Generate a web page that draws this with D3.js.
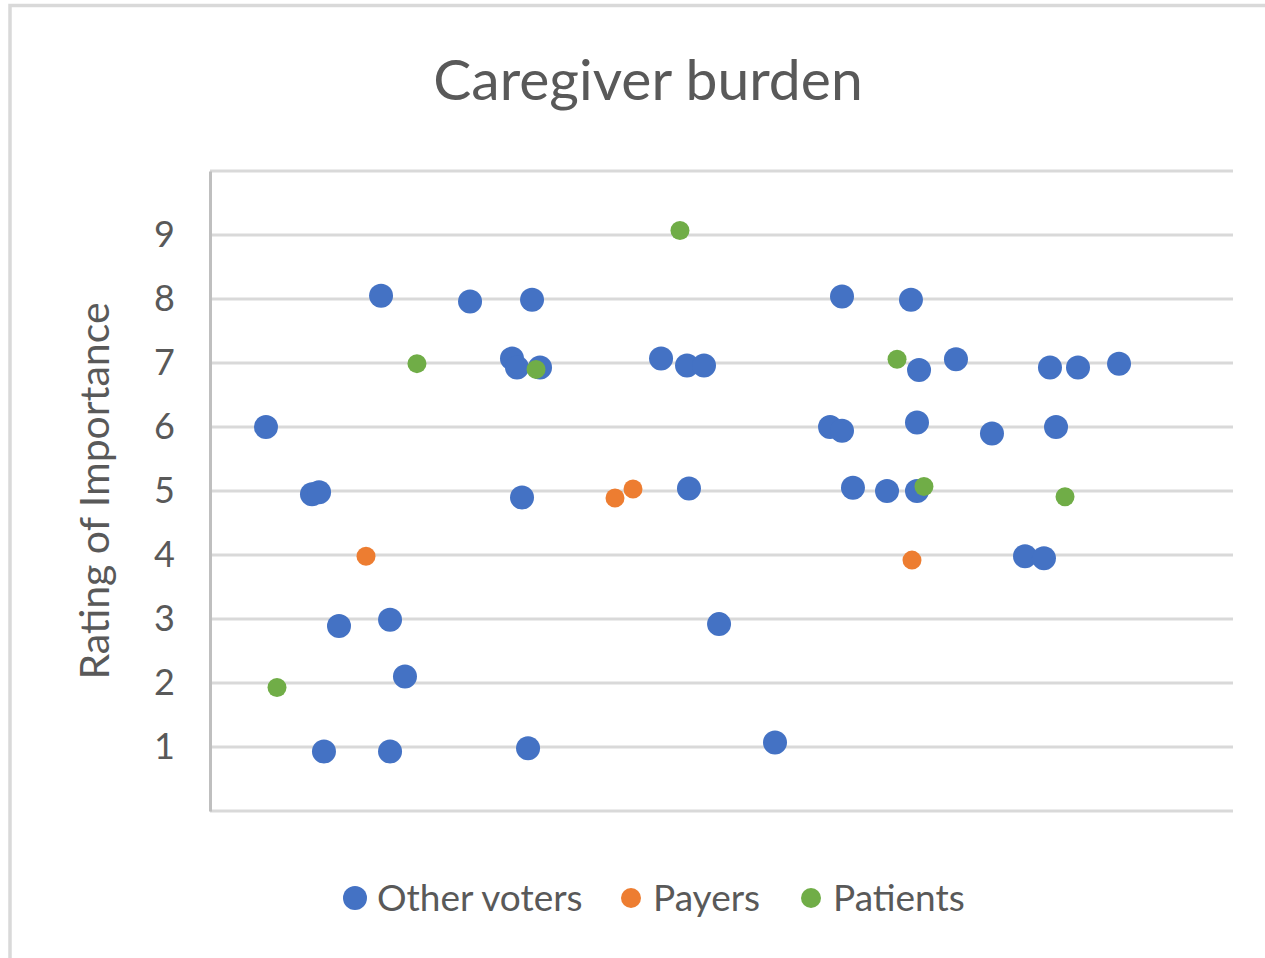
<!DOCTYPE html>
<html>
<head>
<meta charset="utf-8">
<script src="https://cdn.jsdelivr.net/npm/d3@7"></script>
<style>
  body { margin: 0; background: #fff; }
  text { font-family: Lato, "Noto Sans", sans-serif; fill: #595959; }
</style>
</head>
<body>
<div id="chart"></div>
<script>
// x = horizontal jitter position (0-100), y = rating
const otherX = [5.47, 9.97, 10.66, 11.14, 12.61, 16.72, 17.60, 17.60, 19.06, 25.42,
    29.52, 30.01, 32.26, 30.50, 31.48, 31.09, 44.09, 46.63, 48.29, 46.82,
    49.76, 55.23, 61.78, 68.52, 60.61, 61.78, 62.85, 66.18, 69.11, 69.11,
    69.31, 72.92, 76.44, 79.67, 81.52, 82.11, 82.70, 84.85, 88.86];
const otherY = [6.0, 4.95, 4.98, 0.93, 2.89, 8.05, 2.99, 0.93, 2.10, 7.96,
    7.07, 6.93, 6.93, 4.90, 7.99, 0.98, 7.07, 6.96, 6.96, 5.04,
    2.92, 1.07, 8.04, 7.99, 6.0, 5.94, 5.05, 5.0, 5.0, 6.07,
    6.89, 7.06, 5.90, 3.98, 3.95, 6.93, 6.0, 6.93, 6.99];
const payerX = [15.25, 39.59, 41.35, 68.62];
const payerY = [3.98, 4.89, 5.03, 3.92];
const patientX = [6.55, 20.23, 31.87, 45.94, 67.16, 69.79, 83.58];
const patientY = [1.93, 6.99, 6.90, 9.07, 7.06, 5.07, 4.91];
const yTicks = [1, 2, 3, 4, 5, 6, 7, 8, 9];
const seriesNames = ["Other voters", "Payers", "Patients"];
const seriesColors = ["#4472C4", "#ED7D31", "#70AD47"];

const W = 1265, H = 958;
const margin = {top: 171, left: 210, right: 32, bottom: 147};
const width = W - margin.left - margin.right;
const height = H - margin.top - margin.bottom;

const svg = d3.select("#chart").append("svg")
    .attr("width", W)
    .attr("height", H);

// chart frame
svg.append("path")
    .attr("d", `M10,${H} V5.5 H${W}`)
    .attr("fill", "none")
    .attr("stroke", "#d9d9d9")
    .attr("stroke-width", 3.5);

svg.append("text")
    .attr("x", 648)
    .attr("y", 100)
    .attr("text-anchor", "middle")
    .style("font-size", "57px")
    .text("Caregiver burden");

const g = svg.append("g")
    .attr("transform", `translate(${margin.left},${margin.top})`);

const x = d3.scaleLinear().domain([0, 100]).range([0, width]);
const y = d3.scaleLinear().domain([0, 10]).range([height, 0]);

// gridlines
g.selectAll(".grid")
    .data(d3.range(0, 11))
    .join("line")
    .attr("class", "grid")
    .attr("x1", 0)
    .attr("x2", width)
    .attr("y1", d => y(d))
    .attr("y2", d => y(d))
    .attr("stroke", "#d9d9d9")
    .attr("stroke-width", 3);

// y axis
const yAxis = g.append("g")
    .call(d3.axisLeft(y).tickValues(yTicks).tickSize(0).tickPadding(35));
yAxis.select(".domain").attr("stroke", "#bfbfbf").attr("stroke-width", 3);
yAxis.selectAll("text")
    .style("font-size", "36px")
    .style("font-family", "Lato, sans-serif")
    .attr("fill", "#595959");

svg.append("text")
    .attr("transform", `translate(109,${margin.top + height / 2}) rotate(-90)`)
    .attr("text-anchor", "middle")
    .style("font-size", "41px")
    .text("Rating of Importance");

// points, drawn in series order so patients sit on top
const series = [
    {xs: otherX, ys: otherY, r: 12},
    {xs: payerX, ys: payerY, r: 9.5},
    {xs: patientX, ys: patientY, r: 9.5}
];
series.forEach((s, i) => {
    g.append("g")
        .selectAll("circle")
        .data(s.xs.map((v, j) => [v, s.ys[j]]))
        .join("circle")
        .attr("cx", d => x(d[0]))
        .attr("cy", d => y(d[1]))
        .attr("r", s.r)
        .attr("fill", seriesColors[i]);
});

// legend
const legendX = [355, 631, 811];
const legend = svg.append("g");
seriesNames.forEach((name, i) => {
    legend.append("circle")
        .attr("cx", legendX[i])
        .attr("cy", 898)
        .attr("r", i === 0 ? 12 : 10)
        .attr("fill", seriesColors[i]);
    legend.append("text")
        .attr("x", legendX[i] + 22)
        .attr("y", 911)
        .style("font-size", "37px")
        .text(name);
});
</script>
</body>
</html>
